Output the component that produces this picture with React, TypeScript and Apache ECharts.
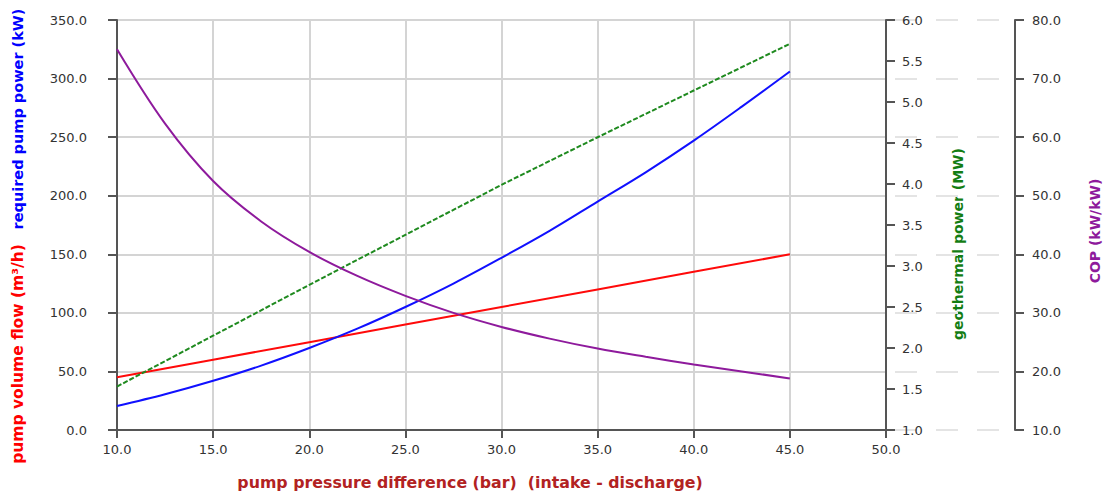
import React, { useEffect, useRef } from "react";
import * as echarts from "echarts";

// pump pressure difference (bar)
const xCoarse = [10, 15, 20, 25, 30, 35, 40, 45];
const xFine = [10, 12.5, 15, 17.5, 20, 22.5, 25, 27.5, 30, 32.5, 35, 37.5, 40, 42.5, 45];

// pump volume flow (m³/h) at xCoarse
const volumeFlow = [45, 60, 75, 90, 105, 120, 135, 150];
// required pump power (kW) at xFine
const pumpPower = [20.5, 30.5, 42, 55, 70, 86.5, 105, 125, 147, 170, 195, 220, 247, 276, 306];
// geothermal power (MW) at xCoarse
const geoPower = [1.53, 2.15, 2.77, 3.38, 3.99, 4.57, 5.14, 5.71];
// COP (kW/kW) at xFine
const cop = [75.0, 62.3, 52.5, 45.6, 40.4, 36.3, 32.9, 30.0, 27.6, 25.6, 23.9, 22.5, 21.2, 20.0, 18.8];

const FONT = "DejaVu Sans";
const AXIS = "#555";
const GRID = "#d4d4d4";
const LABEL = { color: "#333", fontFamily: FONT, fontSize: 13 };

const pair = (xs: number[], ys: number[]) => xs.map((x, i) => [x, ys[i]]);

export default function App() {
  const ref = useRef<HTMLDivElement>(null);
  useEffect(() => {
    if (!ref.current) return;
    const chart = echarts.init(ref.current, undefined, { renderer: "svg" });
    const axisLine = { show: true, onZero: false, lineStyle: { color: AXIS, width: 2 } };
    const axisTick = { show: true, length: 9, lineStyle: { color: AXIS, width: 2 } };
    const title = (text: string, x: number, y: number, fill: string, rot: number, size: number) => ({
      type: "text",
      x,
      y,
      rotation: rot,
      style: {
        text,
        fill,
        font: `bold ${size}px "${FONT}"`,
        textAlign: "center",
        textVerticalAlign: "middle",
      },
    });
    chart.setOption({
      animation: false,
      grid: [
        { left: 117, right: 219, top: 20, bottom: 66 },
        { left: 895, right: 90, top: 20, bottom: 66 },
      ],
      xAxis: [
        {
          type: "value",
          gridIndex: 0,
          min: 10,
          max: 50,
          interval: 5,
          axisLine,
          axisTick: { ...axisTick, length: 8 },
          axisLabel: { ...LABEL, margin: 13, formatter: (v: number) => v.toFixed(1) },
          splitLine: { show: true, lineStyle: { color: GRID, width: 2 } },
        },
        { type: "value", gridIndex: 1, min: 0, max: 1, show: false },
      ],
      yAxis: [
        {
          type: "value",
          gridIndex: 0,
          position: "left",
          min: 0,
          max: 350,
          interval: 50,
          axisLine,
          axisTick,
          axisLabel: { ...LABEL, margin: 30, formatter: (v: number) => v.toFixed(1) },
          splitLine: { show: true, lineStyle: { color: GRID, width: 2 } },
        },
        {
          type: "value",
          gridIndex: 0,
          position: "right",
          offset: 0,
          min: 1,
          max: 6,
          interval: 0.5,
          axisLine,
          axisTick,
          axisLabel: { ...LABEL, margin: 16, formatter: (v: number) => v.toFixed(1) },
          splitLine: { show: false },
        },
        {
          type: "value",
          gridIndex: 0,
          position: "right",
          offset: 129,
          min: 10,
          max: 80,
          interval: 10,
          axisLine,
          axisTick,
          axisLabel: { ...LABEL, margin: 17, formatter: (v: number) => v.toFixed(1) },
          splitLine: { show: false },
        },
        {
          type: "value",
          gridIndex: 1,
          min: 0,
          max: 350,
          interval: 50,
          axisLine: { show: false },
          axisTick: { show: false },
          axisLabel: { show: false },
          splitLine: { show: true, lineStyle: { color: "#e4e4e4", width: 2, type: [22, 19] } },
        },
      ],
      series: [
        {
          name: "pump volume flow",
          type: "line",
          xAxisIndex: 0,
          yAxisIndex: 0,
          data: pair(xCoarse, volumeFlow),
          showSymbol: false,
          lineStyle: { color: "#ff0a0a", width: 2 },
          z: 3,
        },
        {
          name: "required pump power",
          type: "line",
          xAxisIndex: 0,
          yAxisIndex: 0,
          data: pair(xFine, pumpPower),
          smooth: 0.35,
          showSymbol: false,
          lineStyle: { color: "#1010ff", width: 2 },
          z: 3,
        },
        {
          name: "geothermal power",
          type: "line",
          xAxisIndex: 0,
          yAxisIndex: 1,
          data: pair(xCoarse, geoPower),
          showSymbol: false,
          lineStyle: { color: "#1f8a1f", width: 2, type: [5, 2] },
          z: 3,
        },
        {
          name: "COP",
          type: "line",
          xAxisIndex: 0,
          yAxisIndex: 2,
          data: pair(xFine, cop),
          smooth: 0.35,
          showSymbol: false,
          lineStyle: { color: "#8e1a9c", width: 2 },
          z: 3,
        },
      ],
      graphic: [
        title("required pump power (kW)", 18, 119, "#0000ff", Math.PI / 2, 14.5),
        title("pump volume flow (m³/h)", 18, 354, "#ff0000", Math.PI / 2, 15.5),
        title("geothermal power (MW)", 958, 244, "#137d13", Math.PI / 2, 14),
        title("COP (kW/kW)", 1095, 231, "#8e1a9c", Math.PI / 2, 14),
        title("pump pressure difference (bar)  (intake - discharge)", 470, 482, "#b22222", 0, 15.8),
      ],
    });
    return () => chart.dispose();
  }, []);
  return (
    <div
      ref={ref}
      style={{ position: "absolute", left: 0, top: 0, width: 1105, height: 496 }}
    />
  );
}
